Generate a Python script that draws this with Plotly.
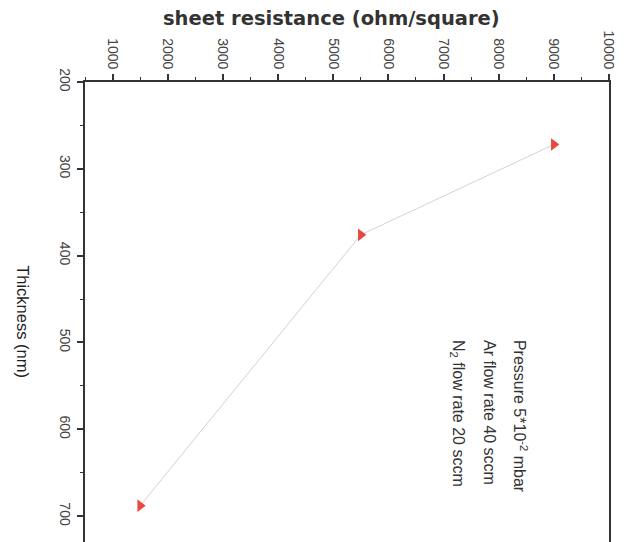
import plotly.graph_objects as go

# Data read from the (rotated) reference chart
thickness_nm = [272, 376, 688]
sheet_resistance = [9000, 5500, 1500]

x_ticks = [1000, 2000, 3000, 4000, 5000, 6000, 7000, 8000, 9000, 10000]
y_ticks = [200, 300, 400, 500, 600, 700]

note_lines = [
    "Pressure 5*10<sup>-2</sup> mbar",
    "Ar flow rate 40 sccm",
    "N<sub>2</sub> flow rate 20 sccm",
]

SANS = "Liberation Sans, Arial, sans-serif"

fig = go.Figure()
fig.add_trace(go.Scatter(
    x=sheet_resistance, y=thickness_nm,
    mode="lines+markers",
    line=dict(color="#d2d2d2", width=1),
    marker=dict(symbol="triangle-right", size=11, color="#e8483f"),
    showlegend=False,
))

fig.update_layout(
    width=639, height=542,
    margin=dict(l=77, r=38, t=74, b=0, autoexpand=False),
    paper_bgcolor="white", plot_bgcolor="white",
    xaxis=dict(
        side="top", range=[500, 10000], automargin=False,
        tickvals=x_ticks, ticktext=[str(v) for v in x_ticks],
        tickangle=90, ticks="outside", ticklen=6, tickwidth=1.5, tickcolor="#333",
        minor=dict(dtick=500, ticks="outside", ticklen=3, tickcolor="#333", tickwidth=1.2),
        showline=True, linecolor="#333", linewidth=1.5, mirror=False,
        showgrid=False, zeroline=False,
        tickfont=dict(family=SANS, size=14, color="#444"),
    ),
    yaxis=dict(
        range=[739, 200], automargin=False,
        tickvals=y_ticks, ticktext=[str(v) for v in y_ticks],
        tickangle=90, ticks="outside", ticklen=6, tickwidth=1.5, tickcolor="#333",
        minor=dict(dtick=50, ticks="outside", ticklen=3, tickcolor="#333", tickwidth=1.2),
        showline=True, linecolor="#333", linewidth=1.5, mirror=True,
        showgrid=False, zeroline=False,
        tickfont=dict(family=SANS, size=14, color="#444"),
    ),
)

# Axis titles (rotated to match the scanned page)
fig.add_annotation(
    text="<b>sheet resistance (ohm/square)</b>",
    xref="paper", yref="paper", x=0.4695, y=1.0, yshift=64,
    xanchor="center", yanchor="middle", showarrow=False,
    font=dict(family="DejaVu Sans", size=19.5, color="#333"),
)
fig.add_annotation(
    text="Thickness (nm)",
    xref="paper", yref="paper", x=0.0, xshift=-62, y=0.489,
    xanchor="center", yanchor="middle", textangle=90, showarrow=False,
    font=dict(family=SANS, size=16.5, color="#222"),
)

# Conditions note, one annotation per line
note_x = [8400, 7836, 7255]
for txt, xv in zip(note_lines, note_x):
    fig.add_annotation(
        text=txt, x=xv, y=495, xref="x", yref="y",
        xanchor="center", yanchor="top", textangle=90, showarrow=False,
        align="left",
        font=dict(family=SANS, size=16, color="#333"),
    )

fig.write_html("out.html")
